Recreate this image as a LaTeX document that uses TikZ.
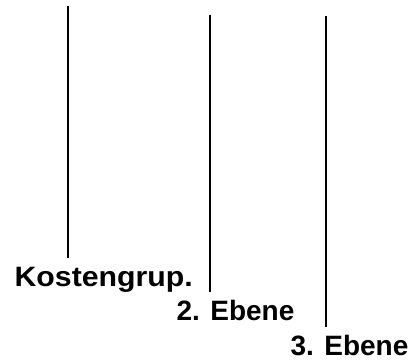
\documentclass[tikz,border=0pt]{standalone}
\usepackage{fontspec}
\setmainfont{Liberation Sans}[BoldFont={Liberation Sans Bold}]
\usetikzlibrary{positioning}
\tikzset{level/.style={anchor=base west,inner sep=0pt,font=\fontsize{28}{30}\selectfont\bfseries}}

\begin{document}
\begin{tikzpicture}[x=1pt,y=1pt,line width=1.3pt]
\useasboundingbox (0,0) rectangle (414,360);
% the three level rules
\draw (68,354) coordinate (k1) -- (68,102) coordinate (k2);
\draw (210,345) coordinate (e1) -- (210,68) coordinate (e2);
\draw (326,344) coordinate (f1) -- (326,33) coordinate (f2);
% level labels, one step lower each
\node[level] (kg) at (14,74) {\scalebox{1.08}[1]{Kostengrup.}};
\node[level] (eb2) at (176,40) {2. Ebene};
\node[level] (eb3) at (290,5) {3. Ebene};
\end{tikzpicture}
\end{document}
